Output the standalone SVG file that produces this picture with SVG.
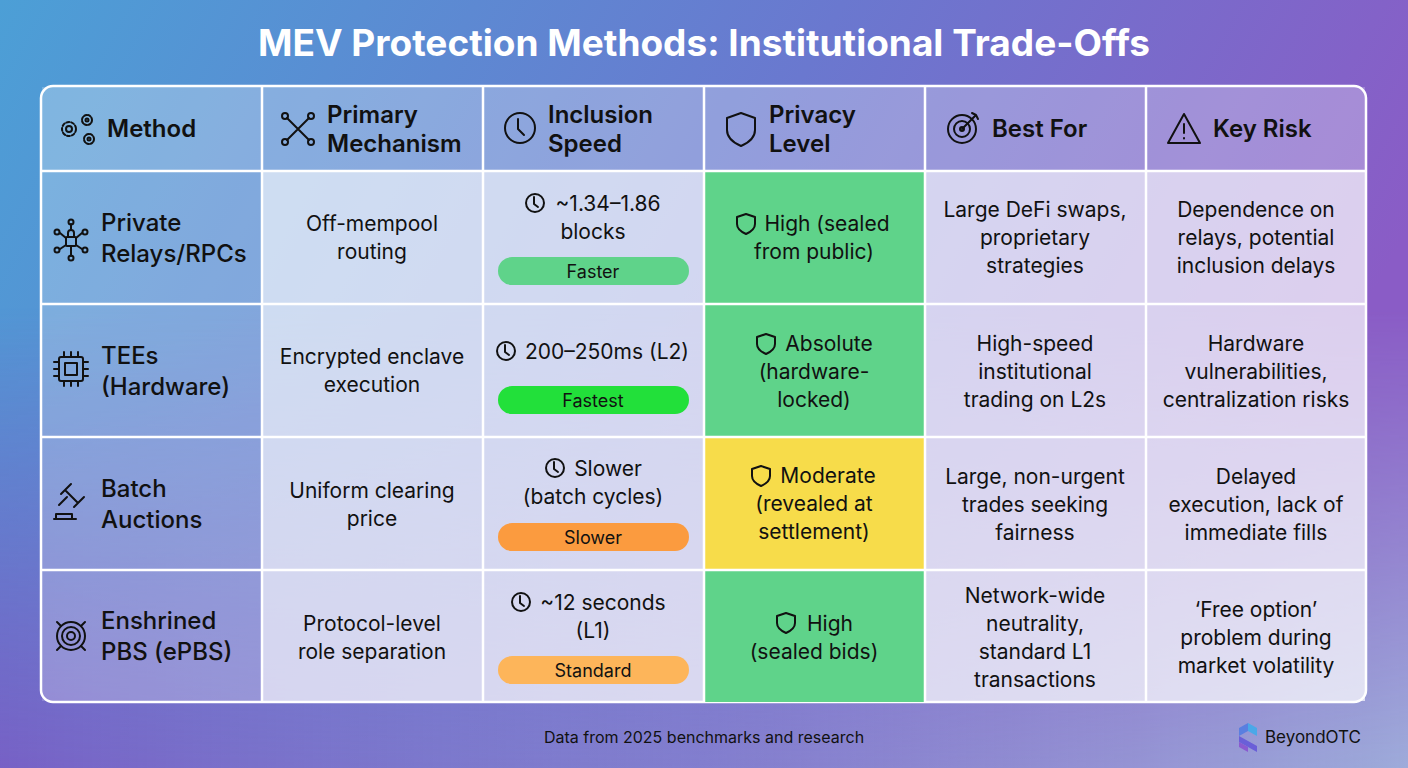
<svg xmlns="http://www.w3.org/2000/svg" width="1408" height="768" viewBox="0 0 1408 768">
<defs>
<linearGradient id="bg" x1="0" y1="0" x2="1" y2="0.3">
<stop offset="0" stop-color="#4c9fd6"/><stop offset="0.55" stop-color="#6a78cf"/><stop offset="1" stop-color="#8a5cc6"/>
</linearGradient>
<linearGradient id="bg2" x1="0" y1="0" x2="1" y2="0">
<stop offset="0" stop-color="#7a5cc4" stop-opacity="0.9"/><stop offset="0.5" stop-color="#8a8ad0" stop-opacity="0.6"/><stop offset="1" stop-color="#a0b4dc" stop-opacity="0.9"/>
</linearGradient>
<linearGradient id="fade" x1="0" y1="0" x2="0" y2="1">
<stop offset="0.4" stop-color="#fff" stop-opacity="0"/><stop offset="1" stop-color="#fff" stop-opacity="1"/>
</linearGradient>
<mask id="m"><rect width="1408" height="768" fill="url(#fade)"/></mask>
<style>
.t{font-family:Inter,"Liberation Sans",sans-serif;fill:#111;}
.h{font-size:24px;font-weight:600;}
.c{font-size:21px;text-anchor:middle;}
.f{font-size:24px;font-weight:500;}
.p{font-size:18px;text-anchor:middle;}
.ic{fill:none;stroke:#111;stroke-width:2;stroke-linecap:round;stroke-linejoin:round;}
.hd{fill:#fff;fill-opacity:0.22;}
.fc{fill:#fff;fill-opacity:0.18;}
.cl{fill:#fff;fill-opacity:0.68;}
.g{stroke:#fff;stroke-width:2.5;}
</style>
</defs>
<rect width="1408" height="768" fill="url(#bg)"/>
<rect width="1408" height="768" fill="url(#bg2)" mask="url(#m)"/>
<text x="704" y="56" text-anchor="middle" font-family="Inter,'Liberation Sans',sans-serif" font-size="37" font-weight="700" fill="#fff">MEV Protection Methods: Institutional Trade-Offs</text>

<g id="table">
<rect x="41" y="86" width="1325" height="616" rx="12" fill="#fff" fill-opacity="0.08" stroke="#fff" stroke-width="2.5"/>
<g id="header">
<rect class="hd" x="42" y="87" width="1323" height="84"/>
</g>
<rect class="fc" x="42" y="171" width="220" height="530"/>
<rect class="cl" x="262" y="171" width="442" height="530"/>
<rect class="cl" x="925" y="171" width="440" height="530"/>
<rect x="704" y="171" width="221" height="133" fill="#5fd38a"/>
<rect x="704" y="304" width="221" height="133" fill="#5fd38a"/>
<rect x="704" y="437" width="221" height="133" fill="#f7dc4a"/>
<rect x="704" y="570" width="221" height="132" fill="#5fd38a"/>
<g class="g">
<line x1="262" y1="86" x2="262" y2="702"/><line x1="483" y1="86" x2="483" y2="702"/>
<line x1="704" y1="86" x2="704" y2="702"/><line x1="925" y1="86" x2="925" y2="702"/>
<line x1="1146" y1="86" x2="1146" y2="702"/>
<line x1="41" y1="171" x2="1366" y2="171"/><line x1="41" y1="304" x2="1366" y2="304"/>
<line x1="41" y1="437" x2="1366" y2="437"/><line x1="41" y1="570" x2="1366" y2="570"/>
</g>
</g>

<g id="headers">
<g class="ic" stroke-width="1.6"><circle cx="69" cy="129" r="7" stroke-dasharray="3 2"/><circle cx="69" cy="129" r="3"/><circle cx="87" cy="120" r="5" stroke-dasharray="2.5 1.5"/><circle cx="87" cy="120" r="1.5"/><circle cx="89" cy="139" r="5" stroke-dasharray="2.5 1.5"/><circle cx="89" cy="139" r="1.5"/></g>
<text class="t h" x="107" y="137">Method</text>
<g class="ic"><circle cx="285" cy="116" r="3"/><circle cx="311" cy="116" r="3"/><circle cx="285" cy="142" r="3"/><circle cx="311" cy="142" r="3"/><path d="M287 118 L309 140 M309 118 L287 140"/></g>
<text class="t h" x="327" y="123">Primary</text><text class="t h" x="327" y="152">Mechanism</text>
<g class="ic"><circle cx="520" cy="128" r="15"/><path d="M518 119 V129 L524 135"/></g>
<text class="t h" x="548" y="123">Inclusion</text><text class="t h" x="548" y="152">Speed</text>
<path class="ic" d="M741 113 L755 118 V130 Q755 140 741 146 Q727 140 727 130 V118 Z"/>
<text class="t h" x="769" y="123">Privacy</text><text class="t h" x="769" y="152">Level</text>
<g class="ic"><circle cx="962" cy="129" r="14"/><circle cx="962" cy="129" r="8"/><circle cx="962" cy="129" r="2"/><path d="M962 129 L976 115 M972 113 L976 115 L978 119"/></g>
<text class="t h" x="992" y="137">Best For</text>
<g class="ic"><path d="M1184 114 L1200 143 H1168 Z"/><path d="M1184 124 V133 M1184 138 V138.5"/></g>
<text class="t h" x="1213" y="137">Key Risk</text>
</g>

<g id="row1">
<g class="ic" stroke-width="1.6"><rect x="66" y="237" width="10" height="9" rx="1"/><path d="M68 237 V233 A3 3 0 0 1 74 233 V237"/><circle cx="71" cy="222" r="2.5"/><circle cx="57" cy="232" r="2.5"/><circle cx="85" cy="232" r="2.5"/><circle cx="57" cy="250" r="2.5"/><circle cx="85" cy="250" r="2.5"/><circle cx="71" cy="258" r="2.5"/><path d="M71 224 V230 M60 233 L66 238 M82 233 L76 238 M60 249 L66 245 M82 249 L76 245 M71 246 V256"/></g>
<text class="t f" x="101" y="231">Private</text><text class="t f" x="101" y="262">Relays/RPCs</text>
<text class="t c" x="372" y="231">Off-mempool</text><text class="t c" x="372" y="259">routing</text>
<g class="ic" stroke-width="1.8"><circle cx="535" cy="203" r="9"/><path d="M534 197 V204 L538 207"/></g>
<text class="t c" x="608" y="211">~1.34–1.86</text><text class="t c" x="593" y="239">blocks</text>
<rect x="498" y="257" width="191" height="28" rx="14" fill="#5fd38a"/><text class="t p" x="593" y="278">Faster</text>
<path class="ic" stroke-width="1.8" d="M746 214 L755 217 V224 Q755 230 746 234 Q737 230 737 224 V217 Z"/>
<text class="t c" x="827" y="231">High (sealed</text><text class="t c" x="814" y="259">from public)</text>
<text class="t c" x="1035" y="217">Large DeFi swaps,</text><text class="t c" x="1035" y="245">proprietary</text><text class="t c" x="1035" y="273">strategies</text>
<text class="t c" x="1256" y="217">Dependence on</text><text class="t c" x="1256" y="245">relays, potential</text><text class="t c" x="1256" y="273">inclusion delays</text>
</g>

<g id="row2">
<g class="ic" stroke-width="1.6"><rect x="59" y="357" width="24" height="24" rx="2"/><rect x="65" y="363" width="12" height="12"/><path d="M64 352 V357 M71 352 V357 M78 352 V357 M64 381 V386 M71 381 V386 M78 381 V386 M54 362 H59 M54 369 H59 M54 376 H59 M83 362 H88 M83 369 H88 M83 376 H88"/></g>
<text class="t f" x="101" y="364">TEEs</text><text class="t f" x="101" y="395">(Hardware)</text>
<text class="t c" x="372" y="364">Encrypted enclave</text><text class="t c" x="372" y="392">execution</text>
<g class="ic" stroke-width="1.8"><circle cx="506" cy="351" r="9"/><path d="M505 345 V352 L509 355"/></g>
<text class="t c" x="607" y="359">200–250ms (L2)</text>
<rect x="498" y="386" width="191" height="28" rx="14" fill="#22e03a"/><text class="t p" x="593" y="407">Fastest</text>
<path class="ic" stroke-width="1.8" d="M766 334 L775 337 V344 Q775 350 766 354 Q757 350 757 344 V337 Z"/>
<text class="t c" x="829" y="351">Absolute</text><text class="t c" x="814" y="379">(hardware-</text><text class="t c" x="814" y="407">locked)</text>
<text class="t c" x="1035" y="351">High-speed</text><text class="t c" x="1035" y="379">institutional</text><text class="t c" x="1035" y="407">trading on L2s</text>
<text class="t c" x="1256" y="351">Hardware</text><text class="t c" x="1256" y="379">vulnerabilities,</text><text class="t c" x="1256" y="407">centralization risks</text>
</g>

<g id="row3">
<g class="ic"><path d="M65 490 L78 503 M61 494 L71 484 M74 507 L84 497 M67 497 L59 505"/><path d="M56 514 H72 V519 H56 Z"/><path d="M54 519 H76"/></g>
<text class="t f" x="101" y="497">Batch</text><text class="t f" x="101" y="528">Auctions</text>
<text class="t c" x="372" y="498">Uniform clearing</text><text class="t c" x="372" y="526">price</text>
<g class="ic" stroke-width="1.8"><circle cx="555" cy="468" r="9"/><path d="M554 462 V469 L558 472"/></g>
<text class="t c" x="608" y="476">Slower</text><text class="t c" x="593" y="504">(batch cycles)</text>
<rect x="498" y="523" width="191" height="28" rx="14" fill="#fb9b3f"/><text class="t p" x="593" y="544">Slower</text>
<path class="ic" stroke-width="1.8" d="M761 466 L770 469 V476 Q770 482 761 486 Q752 482 752 476 V469 Z"/>
<text class="t c" x="828" y="483">Moderate</text><text class="t c" x="814" y="511">(revealed at</text><text class="t c" x="814" y="539">settlement)</text>
<text class="t c" x="1035" y="484">Large, non-urgent</text><text class="t c" x="1035" y="512">trades seeking</text><text class="t c" x="1035" y="540">fairness</text>
<text class="t c" x="1256" y="484">Delayed</text><text class="t c" x="1256" y="512">execution, lack of</text><text class="t c" x="1256" y="540">immediate fills</text>
</g>

<g id="row4">
<g class="ic" stroke-width="1.6"><circle cx="71" cy="636" r="14"/><circle cx="71" cy="636" r="9"/><circle cx="71" cy="636" r="4"/><path d="M61 626 L57 622 M81 626 L85 622 M61 646 L57 650 M81 646 L85 650"/></g>
<text class="t f" x="101" y="629">Enshrined</text><text class="t f" x="101" y="660">PBS (ePBS)</text>
<text class="t c" x="372" y="631">Protocol-level</text><text class="t c" x="372" y="659">role separation</text>
<g class="ic" stroke-width="1.8"><circle cx="521" cy="602" r="9"/><path d="M520 596 V603 L524 606"/></g>
<text class="t c" x="603" y="610">~12 seconds</text><text class="t c" x="593" y="638">(L1)</text>
<rect x="498" y="656" width="191" height="28" rx="14" fill="#fdb55a"/><text class="t p" x="593" y="677">Standard</text>
<path class="ic" stroke-width="1.8" d="M786 613 L795 616 V623 Q795 629 786 633 Q777 629 777 623 V616 Z"/>
<text class="t c" x="830" y="631">High</text><text class="t c" x="814" y="659">(sealed bids)</text>
<text class="t c" x="1035" y="603">Network-wide</text><text class="t c" x="1035" y="631">neutrality,</text><text class="t c" x="1035" y="659">standard L1</text><text class="t c" x="1035" y="687">transactions</text>
<text class="t c" x="1256" y="617">‘Free option’</text><text class="t c" x="1256" y="645">problem during</text><text class="t c" x="1256" y="673">market volatility</text>
</g>

<text x="704" y="743" text-anchor="middle" font-family="Inter,'Liberation Sans',sans-serif" font-size="16" fill="#111">Data from 2025 benchmarks and research</text>
<g id="logo">
<path d="M1248 723 L1257 728 V736 L1248 731 Z" fill="#4aa8e8"/>
<path d="M1239 728 L1248 723 L1248 731 L1239 736 Z" fill="#5a7fe0"/>
<path d="M1239 736 L1257 746 V752 L1248 747 L1239 742 Z" fill="#6a5fd8"/>
<path d="M1239 742 L1248 747 V752 L1239 747 Z" fill="#8a5ad0"/>
<text x="1265" y="743" font-family="Inter,'Liberation Sans',sans-serif" font-size="17" fill="#111">BeyondOTC</text>
</g>
</svg>
